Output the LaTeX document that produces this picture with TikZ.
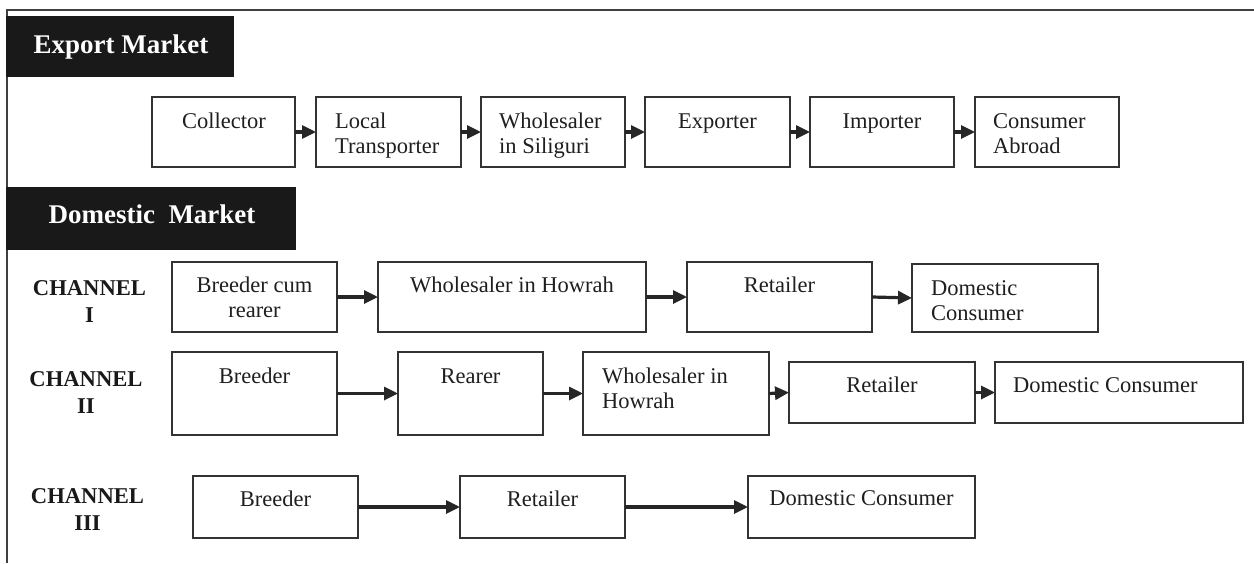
\documentclass[tikz,border=0pt]{standalone}
\usepackage{fontspec}
\setmainfont{Liberation Serif}
\usetikzlibrary{arrows.meta}
\newcommand\bx[5]{\node[box, minimum width={#4-#2}, minimum height={#5-#3}] (#1) at ({(#2+#4)/2},{(#3+#5)/2}) {};}
\tikzset{
  box/.style={draw=black!80, line width=1.8pt, fill=white, inner sep=0pt, outer sep=0pt, rectangle},
  head/.style={fill=black!90, draw=none, inner sep=0pt, outer sep=0pt, rectangle},
  headtxt/.style={text=white, font=\bfseries\fontsize{27}{30}\selectfont, inner sep=0pt},
  chan/.style={font=\bfseries\fontsize{22.6}{26.5}\selectfont, align=center, inner sep=0pt, text=black!90},
  txt/.style={font=\fontsize{22.5}{25}\selectfont, inner sep=0pt, text=black!88},
  ctxt/.style={txt, align=center, anchor=base},
  ltxt/.style={txt, align=left, anchor=base west},
  arr/.style={-{Triangle[length=14pt,width=13pt]}, line width=3.2pt, draw=black!85},
  frame/.style={draw=black!75, line width=1.8pt}
}
\begin{document}
\begin{tikzpicture}[x=1pt,y=-1pt]
\useasboundingbox (0,0) rectangle (1254,563);
% frame
\coordinate (fl) at (7,563);
\coordinate (fc) at (7,10);
\coordinate (fr) at (1254,10);
\draw[frame] (fl) -- (fc) -- (fr);
% headings
\node[head, minimum width=228, minimum height=61] (exphead) at (120,46.5) {};
\node[headtxt, anchor=base] (exptxt) at (121,53) {Export Market};
\node[head, minimum width=290, minimum height=63] (domhead) at (151,218.5) {};
\node[headtxt, anchor=base] (domtxt) at (152,223) {Domestic\ \ Market};
% export row (multi-line nodes anchored at the baseline of their last line)
\bx{e1}{152}{97}{295}{167}
\bx{e2}{316}{97}{461}{167}
\bx{e3}{481}{97}{625}{167}
\bx{e4}{645}{97}{790}{167}
\bx{e5}{810}{97}{954}{167}
\bx{e6}{975}{97}{1119}{167}
\node[ctxt] (te1) at (224,128) {Collector};
\node[ltxt] (te2) at (335,153) {Local\\Transporter};
\node[ltxt] (te3) at (499,153) {Wholesaler\\in Siliguri};
\node[ctxt] (te4) at (717.5,128) {Exporter};
\node[ctxt] (te5) at (882,128) {Importer};
\node[ltxt] (te6) at (993,153) {Consumer\\Abroad};
\draw[arr] (e1.east) -- (e2.west);
\draw[arr] (e2.east) -- (e3.west);
\draw[arr] (e3.east) -- (e4.west);
\draw[arr] (e4.east) -- (e5.west);
\draw[arr] (e5.east) -- (e6.west);
% channel I
\node[chan, anchor=base] (c1) at (89.5,322) {CHANNEL\\I};
\bx{a1}{172}{262}{337}{332}
\bx{a2}{378}{262}{646}{332}
\bx{a3}{687}{262}{872}{332}
\bx{a4}{912}{264}{1098}{332}
\node[ctxt] (ta1) at (254.5,317) {Breeder cum\\rearer};
\node[ctxt] (ta2) at (512,292) {Wholesaler in Howrah};
\node[ctxt] (ta3) at (779.5,292) {Retailer};
\node[ltxt] (ta4) at (931,320) {Domestic\\Consumer};
\draw[arr] (a1.east) -- (a2.west);
\draw[arr] (a2.east) -- (a3.west);
\draw[arr] (a3.east) -- (a4.west);
% channel II
\node[chan, anchor=base] (c2) at (86,413) {CHANNEL\\II};
\bx{b1}{172}{352}{337}{435}
\bx{b2}{398}{352}{543}{435}
\bx{b3}{583}{352}{769}{435}
\bx{b4}{789}{362}{975}{423}
\bx{b5}{995}{362}{1243}{423}
\node[ctxt] (tb1) at (254.5,383) {Breeder};
\node[ctxt] (tb2) at (470.5,383) {Rearer};
\node[ltxt] (tb3) at (602,408) {Wholesaler in\\Howrah};
\node[ctxt] (tb4) at (882,392) {Retailer};
\node[ltxt] (tb5) at (1013,392) {Domestic Consumer};
\draw[arr] (b1.east) -- (b2.west);
\draw[arr] (b2.east) -- (b3.west);
\draw[arr] (b3.east) -- (b4.west);
\draw[arr] (b4.east) -- (b5.west);
% channel III
\node[chan, anchor=base] (c3) at (87.5,530) {CHANNEL\\III};
\bx{d1}{193}{476}{358}{538}
\bx{d2}{460}{476}{625}{538}
\bx{d3}{748}{476}{975}{538}
\node[ctxt] (td1) at (275.5,506) {Breeder};
\node[ctxt] (td2) at (542.5,506) {Retailer};
\node[ctxt] (td3) at (861.5,505) {Domestic Consumer};
\draw[arr] (d1.east) -- (d2.west);
\draw[arr] (d2.east) -- (d3.west);
\end{tikzpicture}
\end{document}
